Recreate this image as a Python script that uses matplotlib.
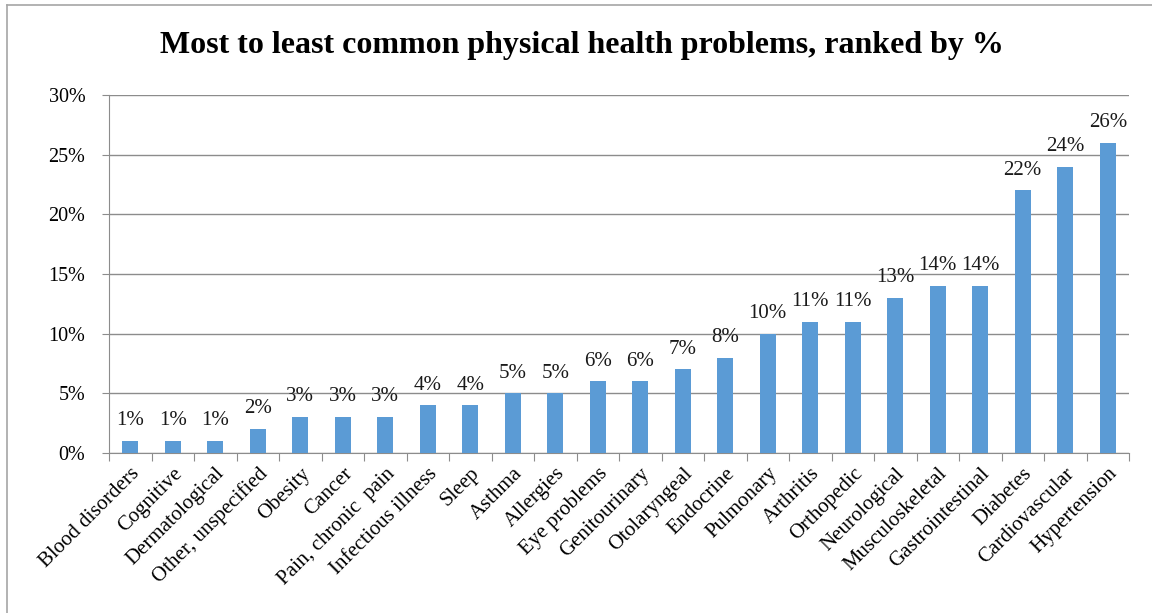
import matplotlib.pyplot as plt
from matplotlib.lines import Line2D

categories = ['Blood disorders', 'Cognitive', 'Dermatological', 'Other, unspecified',
              'Obesity', 'Cancer', 'Pain, chronic  pain', 'Infectious illness', 'Sleep',
              'Asthma', 'Allergies', 'Eye problems', 'Genitourinary', 'Otolaryngeal',
              'Endocrine', 'Pulmonary', 'Arthritis', 'Orthopedic', 'Neurological',
              'Musculoskeletal', 'Gastrointestinal', 'Diabetes', 'Cardiovascular',
              'Hypertension']
values = [1, 1, 1, 2, 3, 3, 3, 4, 4, 5, 5, 6, 6, 7, 8, 10, 11, 11, 13, 14, 14, 22, 24, 26]
yticks = [0, 5, 10, 15, 20, 25, 30]

plt.rcParams['font.family'] = ['Liberation Serif', 'DejaVu Serif']

W, H = 1152, 613
fig = plt.figure(figsize=(W / 100, H / 100), dpi=100)
n = len(categories)
ax = fig.add_axes([109 / W, 1 - 453 / H, (1129 - 109) / W, (453 - 95) / H])

x = list(range(n))
ax.bar(x, values, width=0.38, color='#5B9BD5', zorder=3)
for xi, v in zip(x, values):
    ax.text(xi, v + 0.9, f'{v}%', ha='center', va='bottom', fontsize=15, color='#1a1a1a')

ax.set_xlim(-0.5, n - 0.5)
ax.set_ylim(0, 30)
ax.set_yticks(yticks)
ax.set_yticklabels([f'{t}%' for t in yticks], fontsize=14.5)
ax.yaxis.grid(True, color='#8c8c8c', linewidth=1, zorder=0)
ax.tick_params(axis='y', length=5, color='#8c8c8c', pad=12)

ax.set_xticks([i - 0.5 for i in range(n + 1)], minor=False)
ax.set_xticklabels([])
ax.set_xticks(x, minor=True)
ax.set_xticklabels(categories, minor=True, rotation=45, ha='right',
                   rotation_mode='anchor', fontsize=15)
ax.tick_params(axis='x', which='major', length=6, color='#8c8c8c')
ax.tick_params(axis='x', which='minor', length=0, pad=8)

for side in ['top', 'right']:
    ax.spines[side].set_visible(False)
for side in ['left', 'bottom']:
    ax.spines[side].set_color('#8c8c8c')

fig.text(582 / W, 1 - 45 / H, 'Most to least common physical health problems, ranked by %',
         ha='center', va='center', fontsize=23, fontweight='bold')

# outer chart border (left and top edges visible)
fig.add_artist(Line2D([7 / W, 7 / W], [0, 1 - 5 / H], color='#a6a6a6', linewidth=1.2))
fig.add_artist(Line2D([7 / W, 1], [1 - 5 / H, 1 - 5 / H], color='#a6a6a6', linewidth=1.2))

fig.savefig('out.png', dpi=100)
